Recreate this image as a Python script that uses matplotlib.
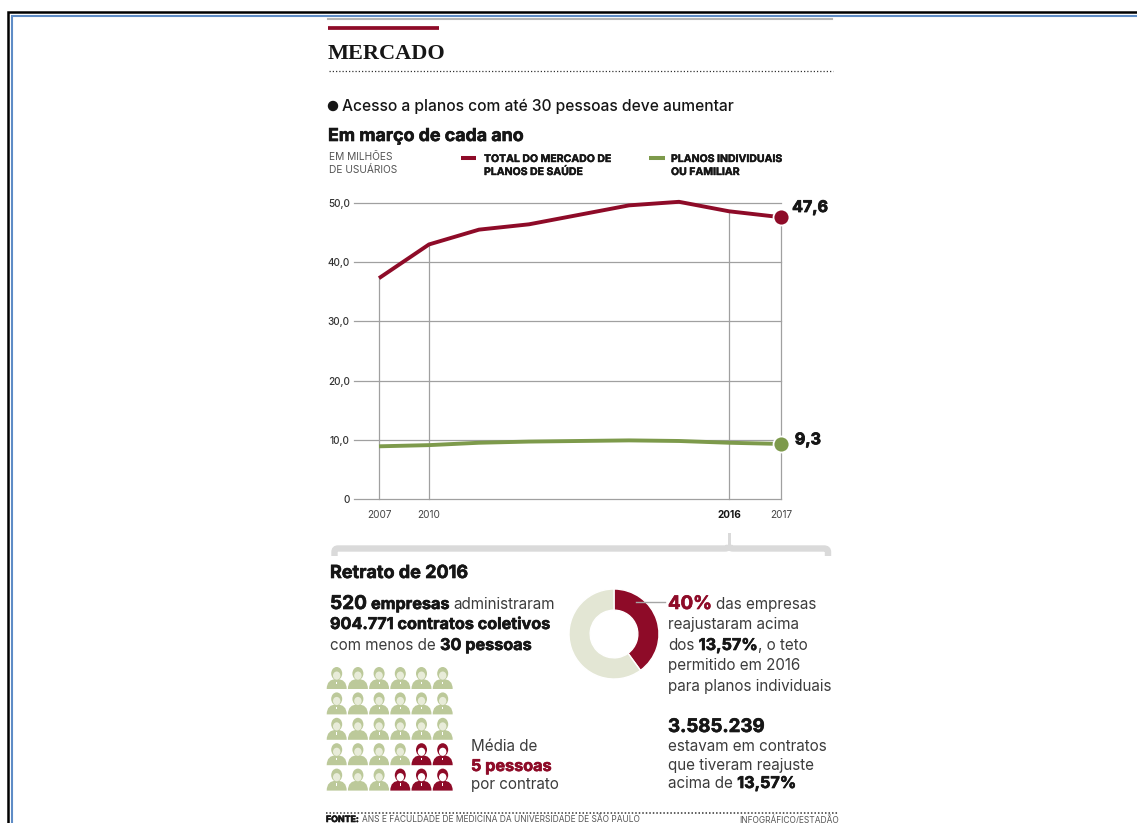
import matplotlib
matplotlib.use("Agg")
import matplotlib.pyplot as plt
import matplotlib.patheffects as pe
from matplotlib.patches import Ellipse, PathPatch, Rectangle
from matplotlib.path import Path

plt.rcParams["font.family"] = ["Inter", "DejaVu Sans"]

# ── data ─────────────────────────────────────────────────────────────────────
years = ["2007", "2010", "2011", "2012", "2013", "2014", "2015", "2016", "2017"]
shown_years = ["2007", "2010", "2016", "2017"]
total_mercado = [37.3, 43.0, 45.5, 46.4, 48.0, 49.6, 50.2, 48.6, 47.6]
individuais = [8.9, 9.1, 9.5, 9.7, 9.8, 9.9, 9.8, 9.5, 9.3]
y_ticks = [0, 10, 20, 30, 40, 50]
y_tick_labels = ["0", "10,0", "20,0", "30,0", "40,0", "50,0"]
donut_values = [40, 60]
people_rows = 5
people_cols = 6
people_red = 5

RED = "#8E0B28"
GREEN = "#7D9A4B"
PALE_GREEN = "#BCC99A"
PALE_DONUT = "#E3E6D4"
DARK = "#161616"
GREY_TEXT = "#3C3C3C"
W, H = 1137, 823

fig = plt.figure(figsize=(W / 100, H / 100), dpi=100, facecolor="white")

# camada em pixels para textos e adornos
page = fig.add_axes([0, 0, 1, 1], zorder=3)
page.set_xlim(0, W)
page.set_ylim(H, 0)
page.axis("off")
page.patch.set_alpha(0)


def px(size):
    return size * 0.72


def heavy(t, lw=0.45):
    """Engrossa o negrito, a fonte instalada é mais leve que a do jornal"""
    t.set_path_effects([pe.withStroke(linewidth=lw, foreground=t.get_color())])
    return t


def runs(x, y, parts, regular=15.2, bold=16.2, gap=4.3):
    """Escreve trechos com pesos/cores diferentes na mesma linha de base"""
    rend = fig.canvas.get_renderer()
    for i, part in enumerate(parts):
        text, weight, color = part[:3]
        s = part[3] if len(part) > 3 else (bold if weight == "bold" else regular)
        t = page.text(x, y, text, fontsize=px(s), fontweight=weight, color=color,
                      ha="left", va="baseline")
        if weight == "bold":
            heavy(t)
        x = page.transData.inverted().transform((t.get_window_extent(rend).x1, 0))[0]
        if i + 1 < len(parts) and not parts[i + 1][0].startswith(","):
            x += gap


# ── moldura ──────────────────────────────────────────────────────────────────
page.plot([8.2, 8.2, W], [H, 12.2, 12.2], color="black", lw=1.8, solid_joinstyle="miter")
page.plot([11.8, 11.8, W], [H, 15.8, 15.8], color="#5E8CC6", lw=1.5, solid_joinstyle="miter")

# ── cabeçalho ────────────────────────────────────────────────────────────────
page.plot([328, 832], [19, 19], color="#B5B5B5", lw=1.5)
page.plot([328, 439], [27.5, 27.5], color=RED, lw=2.7, solid_capstyle="butt")
page.text(328, 59, "MERCADO", fontsize=px(22.3), fontweight="bold", color=DARK,
          family="Liberation Serif", ha="left", va="baseline")
page.plot([329, 833], [70.5, 70.5], color="#333333", lw=0.9, ls=(0, (1, 1.6)))

page.add_patch(Ellipse((333, 106), 9, 9, color=DARK))
runs(342, 111, [("Acesso a planos com até 30 pessoas deve aumentar", "medium", DARK)], regular=15.6)
runs(328, 141, [("Em março de cada ano", "bold", DARK)], bold=17.8)

page.text(329, 160, "EM MILHÕES", fontsize=px(10.2), color="#555555", va="baseline")
page.text(329, 173, "DE USUÁRIOS", fontsize=px(10.2), color="#555555", va="baseline")

# legenda
page.plot([461, 476], [158, 158], color=RED, lw=2.9, solid_capstyle="butt")
page.plot([649, 665], [158, 158], color=GREEN, lw=2.9, solid_capstyle="butt")
for lx, ly, rotulo in [(484, 162, "TOTAL DO MERCADO DE"), (484, 175, "PLANOS DE SAÚDE"),
                       (671, 162, "PLANOS INDIVIDUAIS"), (671, 175, "OU FAMILIAR")]:
    heavy(page.text(lx, ly, rotulo, fontsize=px(10.5), fontweight="bold", color=DARK), 0.3)

# ── gráfico de linhas ────────────────────────────────────────────────────────
ax = fig.add_axes([354 / W, 1 - 499 / H, (781 - 354) / W, (499 - 203) / H], zorder=2)
# 2007 e 2010 são vizinhos no eixo: a escala é por levantamento, não por ano
positions = list(range(len(years) - 1)) + [len(years) - 1 + 0.04]
ax.set_xlim(-0.5, positions[-1])
ax.set_ylim(0, 50)
for side in ax.spines.values():
    side.set_visible(False)
ax.set_yticks(y_ticks)
ax.set_yticklabels(y_tick_labels, fontsize=px(10), color="#333333", fontweight="medium")
ax.yaxis.grid(True, color="#A0A0A0", lw=0.9, clip_on=False)
ax.set_axisbelow(True)
ax.tick_params(axis="both", length=0)
ax.tick_params(axis="y", pad=3)
ax.tick_params(axis="x", pad=8)

tick_idx = [years.index(y) for y in shown_years]
ax.set_xticks([positions[i] for i in tick_idx])
ax.set_xticklabels(shown_years, fontsize=px(10), color="#444444")
for lab in ax.get_xticklabels():
    if lab.get_text() == "2016":
        lab.set_fontweight("bold")
        lab.set_color(DARK)

for i in tick_idx:
    ax.plot([positions[i]] * 2, [0, total_mercado[i]], color="#A0A0A0", lw=0.9, zorder=1, clip_on=False)

for serie, cor, offset in ((total_mercado, RED, (8, 7)), (individuais, GREEN, (10, 3))):
    ax.plot(positions, serie, color=cor, lw=2.8, zorder=3, solid_capstyle="butt", clip_on=False)
    ax.plot(positions[-1], serie[-1], "o", ms=11.5, color=cor, mec="white", mew=1.3,
            zorder=4, clip_on=False)
    heavy(ax.annotate(f"{serie[-1]:.1f}".replace(".", ","), (positions[-1], serie[-1]),
                      xytext=offset, textcoords="offset points", fontsize=px(16),
                      fontweight="bold", color=DARK, va="center", ha="left",
                      annotation_clip=False), 0.6)

# ── chave "Retrato de 2016" ──────────────────────────────────────────────────
bracket = Path(
    [(334.5, 556), (334.5, 552), (334.5, 548.5), (338, 548.5), (725, 548.5), (729, 548.5),
     (729, 545), (729, 548.5), (733, 548.5), (824, 548.5), (828, 548.5), (828, 552), (828, 556)],
    [Path.MOVETO, Path.LINETO, Path.CURVE3, Path.CURVE3, Path.LINETO, Path.CURVE3,
     Path.CURVE3, Path.CURVE3, Path.CURVE3, Path.LINETO, Path.CURVE3, Path.CURVE3, Path.LINETO])
page.add_patch(PathPatch(bracket, fill=False, edgecolor="#DADADA", lw=4.6, capstyle="butt"))
page.add_patch(Rectangle((727.5, 533), 3, 14, color="#DADADA", lw=0))

runs(330, 578, [("Retrato de 2016", "bold", DARK)], bold=18)

# ── bloco de texto esquerdo ──────────────────────────────────────────────────
runs(330, 609, [("520", "bold", DARK, 19), ("empresas", "bold", DARK),
                ("administraram", "normal", GREY_TEXT)])
runs(330, 629, [("904.771 contratos coletivos", "bold", DARK)])
runs(330, 650, [("com menos de", "normal", GREY_TEXT), ("30 pessoas", "bold", DARK)])


# ── pictograma de pessoas ────────────────────────────────────────────────────
def person(cx, top, cor):
    b = top + 22
    s = top + 12
    ombros = Path([(cx - 10, b), (cx - 10, s), (cx, s), (cx + 10, s), (cx + 10, b), (cx - 10, b)],
                  [Path.MOVETO, Path.CURVE3, Path.CURVE3, Path.CURVE3, Path.CURVE3, Path.CLOSEPOLY])
    page.add_patch(PathPatch(ombros, facecolor=cor, edgecolor="none"))
    page.add_patch(Ellipse((cx, top + 6.5), 11, 13, color=cor, lw=0))
    rosto = "white" if cor == RED else "#E8ECD9"
    page.add_patch(Ellipse((cx, top + 8.6), 7.4, 8.2, color=rosto, lw=0))
    page.add_patch(Rectangle((cx - 0.4, top + 14.5), 0.8, 2.5, color="white", lw=0))


col_x = [336.7 + 21.2 * c for c in range(people_cols)]
row_y = [667 + 25.4 * r for r in range(people_rows)]
for r in range(people_rows):
    for c in range(people_cols):
        # os vermelhos preenchem de baixo para cima, a partir do canto direito
        rank = (people_cols - 1 - c) * 2 + (people_rows - 1 - r)
        person(col_x[c], row_y[r], RED if rank < people_red and r >= people_rows - 2 else PALE_GREEN)

runs(471, 751, [("Média de", "normal", GREY_TEXT)])
runs(471, 771, [("5 pessoas", "bold", RED)])
runs(471, 789, [("por contrato", "normal", GREY_TEXT)])

# ── rosca ────────────────────────────────────────────────────────────────────
donut = fig.add_axes([569 / W, 1 - 679 / H, 90 / W, 90 / H], zorder=2)
donut.pie(donut_values, colors=[RED, PALE_DONUT], startangle=90, counterclock=False,
          radius=1.0, wedgeprops=dict(width=0.47, edgecolor="white", linewidth=1))
donut.set_xlim(-1, 1)
donut.set_ylim(-1, 1)
page.plot([636, 665], [602, 602], color="#A5A5A5", lw=1)

runs(668, 609, [("40%", "bold", RED, 18.6), ("das empresas", "normal", GREY_TEXT)])
runs(668, 629, [("reajustaram acima", "normal", GREY_TEXT)])
runs(668, 650, [("dos", "normal", GREY_TEXT), ("13,57%", "bold", DARK),
                (", o teto", "normal", GREY_TEXT)])
runs(668, 670, [("permitido em 2016", "normal", GREY_TEXT)])
runs(668, 691, [("para planos individuais", "normal", GREY_TEXT)])

runs(668, 732, [("3.585.239", "bold", DARK, 18.7)])
runs(668, 751, [("estavam em contratos", "normal", GREY_TEXT)])
runs(668, 770, [("que tiveram reajuste", "normal", GREY_TEXT)])
runs(668, 788, [("acima de", "normal", GREY_TEXT), ("13,57%", "bold", DARK)])

# ── rodapé ───────────────────────────────────────────────────────────────────
page.plot([326, 839], [812.5, 812.5], color="#333333", lw=1.1, ls=(0, (1, 1.3)))
runs(326, 822, [("FONTE:", "bold", DARK),
                ("ANS E FACULDADE DE MEDICINA DA UNIVERSIDADE DE SÃO PAULO", "normal", "#555555")],
     regular=8.4, bold=8.8, gap=2.5)
page.text(839, 823, "INFOGRÁFICO/ESTADÃO", fontsize=px(8.4), color="#555555", ha="right", va="baseline")

fig.savefig("out.png", dpi=100)
